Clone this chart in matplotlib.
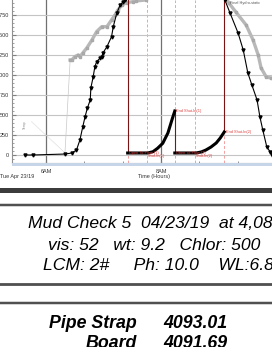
import matplotlib
matplotlib.use('Agg')
import matplotlib.pyplot as plt
from matplotlib.patches import Rectangle
from matplotlib.ticker import MultipleLocator, FuncFormatter

plt.rcParams['font.family'] = ['Liberation Sans', 'DejaVu Sans']

W, H = 272, 347

# pressure (psi) vs time (hours of day)
run_in_t = [5.64, 5.77, 6.33, 6.45, 6.53, 6.59, 6.64, 6.68, 6.72, 6.77, 6.78, 6.82,
            6.85, 6.88, 6.94, 6.97, 6.99, 7.06, 7.14, 7.17, 7.23, 7.29, 7.34, 7.37, 7.42]
run_in_p = [0, 0, 12, 25, 62, 188, 354, 479, 588, 688, 838, 975,
            1104, 1166, 1212, 1229, 1275, 1354, 1479, 1604, 1771, 1875, 1916, 1938, 2010]

flow1_t = [7.42, 7.50, 7.60, 7.70, 7.75, 7.77, 7.86, 7.94, 8.03, 8.12, 8.20, 8.24]
flow1_p = [25, 25, 25, 25, 25, 25, 41, 84, 146, 275, 462, 550]

flow2_t = [8.24, 8.35, 8.45, 8.55, 8.59, 8.61, 8.70, 8.78, 8.87, 8.96, 9.03, 9.10]
flow2_p = [25, 25, 25, 25, 25, 25, 38, 62, 100, 150, 212, 288]

pull_t = [9.10, 9.11, 9.20, 9.34, 9.43, 9.51, 9.58, 9.67, 9.72, 9.77, 9.84, 9.90, 9.93]
pull_p = [2010, 1938, 1775, 1525, 1312, 1025, 875, 688, 475, 312, 100, 38, 0]

# second (gray) trace, drawn on the pressure scale
temp_lead_t = [5.75, 6.33, 6.42]
temp_lead = [416, 25, 1188]
temp_up_t = [6.42, 6.45, 6.50, 6.56, 6.59, 6.64, 6.71, 6.80, 6.88, 6.97, 7.06,
             7.14, 7.20, 7.25, 7.32, 7.40, 7.51, 7.57, 7.74, 7.81]
temp_up = [1188, 1188, 1229, 1250, 1229, 1275, 1338, 1438, 1541, 1604, 1604,
           1688, 1750, 1812, 1875, 1904, 1916, 1925, 1938, 2000]
temp_down_t = [9.10, 9.18, 9.30, 9.48, 9.60, 9.69, 9.74, 9.83, 9.91, 9.93]
temp_down = [2000, 1900, 1788, 1625, 1438, 1250, 1088, 975, 962, 960]

event_t = [7.42, 7.75, 8.24, 8.59, 9.10]
event_labels = ['Open To Flow (1)', 'Shut-In(1)', 'End Shut-In(1)',
                'Open To Flow (2)', 'Shut-In(2)', 'End Shut-In(2)']

mud_lines = ["Mud Check 5  04/23/19  at 4,087'",
             'vis: 52   wt: 9.2   Chlor: 500',
             'LCM: 2#     Ph: 10.0    WL:6.8']
strap_names = ['Pipe Strap', 'Board']
strap_values = ['4093.01', '4091.69']


def fx(x):
    return x / W


def fy(y):
    return 1 - y / H


fig = plt.figure(figsize=(W / 100, H / 100), dpi=100)
ax = fig.add_axes([fx(12), fy(163), fx(260), 163 / H])

ax.set_xlim(5.409, 9.93)
ax.set_ylim(-100, 1937)

# grid
ax.yaxis.set_major_locator(MultipleLocator(250))
ax.yaxis.set_minor_locator(MultipleLocator(50))
ax.xaxis.set_major_locator(MultipleLocator(2))
ax.xaxis.set_minor_locator(MultipleLocator(2 / 3))
ax.grid(True, axis='y', color='#c4c4c4', linewidth=0.8, zorder=0)
ax.grid(True, axis='x', which='major', color='#707070', linewidth=0.9, zorder=0)
ax.xaxis.set_major_formatter(FuncFormatter(lambda v, _: f'{int(round(v)) % 12 or 12}AM'))
ax.yaxis.set_major_formatter(FuncFormatter(lambda v, _: f'{int(v)}'))
ax.tick_params(axis='y', which='major', direction='in', length=3, labelsize=4,
               color='#808080', pad=2, labelcolor='#333333')
ax.tick_params(axis='y', which='minor', direction='in', length=1.5, color='#909090')
ax.tick_params(axis='x', which='both', direction='inout', length=3, labelsize=4,
               color='#808080', pad=3, labelcolor='#333333')
for side in ['top', 'right']:
    ax.spines[side].set_visible(False)
for side in ['left', 'bottom']:
    ax.spines[side].set_color('#909090')
    ax.spines[side].set_linewidth(0.8)

# event lines
for t in event_t:
    ax.axvline(t, color='#f4a0a0', linestyle=(0, (3, 2)), linewidth=0.7, zorder=1)

# gray trace
ax.plot(temp_lead_t[:2], temp_lead[:2], color='#c0c0c0', linewidth=0.5,
        linestyle=(0, (1, 1)), zorder=2)
ax.plot(temp_lead_t[1:], temp_lead[1:], color='#c8c8c8', linewidth=0.5, zorder=2)
for tt, vv in [(temp_up_t, temp_up), (temp_down_t, temp_down)]:
    ax.plot(tt, vv, color='#b8b8b8', linewidth=2.4, marker='s', markersize=1.8,
            markeredgecolor='#a8a8a8', zorder=2)
ax.text(temp_lead_t[0] - 0.12, temp_lead[0] - 40, 'Temp', rotation=90, fontsize=2.5,
        color='#909090', ha='center', va='center')

# pressure trace
ax.plot(run_in_t, run_in_p, color='black', linewidth=0.8, marker='v', markersize=2.2, zorder=4)
ax.plot(pull_t, pull_p, color='black', linewidth=0.8, marker='v', markersize=2.2, zorder=4)
ax.plot(flow1_t, flow1_p, color='black', linewidth=2.2, zorder=4)
ax.plot(flow2_t, flow2_p, color='black', linewidth=2.2, zorder=4)

# drops/rises between periods
jumps = [(run_in_t[-1], run_in_p[-1], flow1_t[0], flow1_p[0]),
         (flow1_t[-1], flow1_p[-1], flow2_t[0], flow2_p[0]),
         (flow2_t[-1], flow2_p[-1], pull_t[0], pull_p[0])]
for t0, p0, t1, p1 in jumps:
    ax.plot([t0, t1], [p0, p1], color='#7a1414', linewidth=0.8, zorder=3)

# event labels
label_pts = [(flow1_t[0], flow1_p[0]), (event_t[1], -15), (flow1_t[-1], flow1_p[-1]),
             (flow2_t[0], flow2_p[0]), (event_t[3], -15), (flow2_t[-1], flow2_p[-1])]
for lbl, (t, p) in zip(event_labels, label_pts):
    ax.annotate(lbl, (t, p), xytext=(1, 0), textcoords='offset points', fontsize=2.8,
                color='#e03c3c', va='center', ha='left', zorder=5)
ax.annotate('Final Hydro-static', (pull_t[0], 1900), xytext=(4, 0), textcoords='offset points',
            fontsize=2.8, color='#555555', va='center', ha='left', zorder=5)

# axis band and captions
fig.patches.append(Rectangle((fx(12), fy(166)), fx(260), 3 / H, transform=fig.transFigure,
                             facecolor='#c6d5e8', edgecolor='none'))
fig.text(0, fy(177), 'Tue Apr 23/19', fontsize=4, color='#333333', va='center')
fig.text(fx(154), fy(177), 'Time (Hours)', fontsize=4, color='#333333', va='center', ha='center')

# report frame lines
fig.patches.append(Rectangle((0, fy(193)), 1, 5.5 / H, transform=fig.transFigure,
                             facecolor='#3c3c3c', edgecolor='none'))
for y, lw in [(205.5, 2.5), (283.5, 2.8), (303, 2.5)]:
    fig.add_artist(plt.Line2D([0, 1], [fy(y), fy(y)], transform=fig.transFigure,
                              color='#505050', linewidth=lw * 0.72))

# mud check text
for (x, y), line in zip([(28, 223), (48, 245), (43, 266)], mud_lines):
    fig.text(fx(x), fy(y), line, fontsize=12.6, style='italic', color='black',
             va='center', ha='left')

# pipe strap text
for i, (name, val) in enumerate(zip(strap_names, strap_values)):
    y = 323 + i * 20.5
    fig.text(fx(137), fy(y), name, fontsize=12.8, style='italic', weight='bold',
             va='center', ha='right')
    fig.text(fx(163), fy(y), val, fontsize=12.8, style='italic', weight='bold',
             va='center', ha='left')

fig.savefig('out.png', dpi=100)
